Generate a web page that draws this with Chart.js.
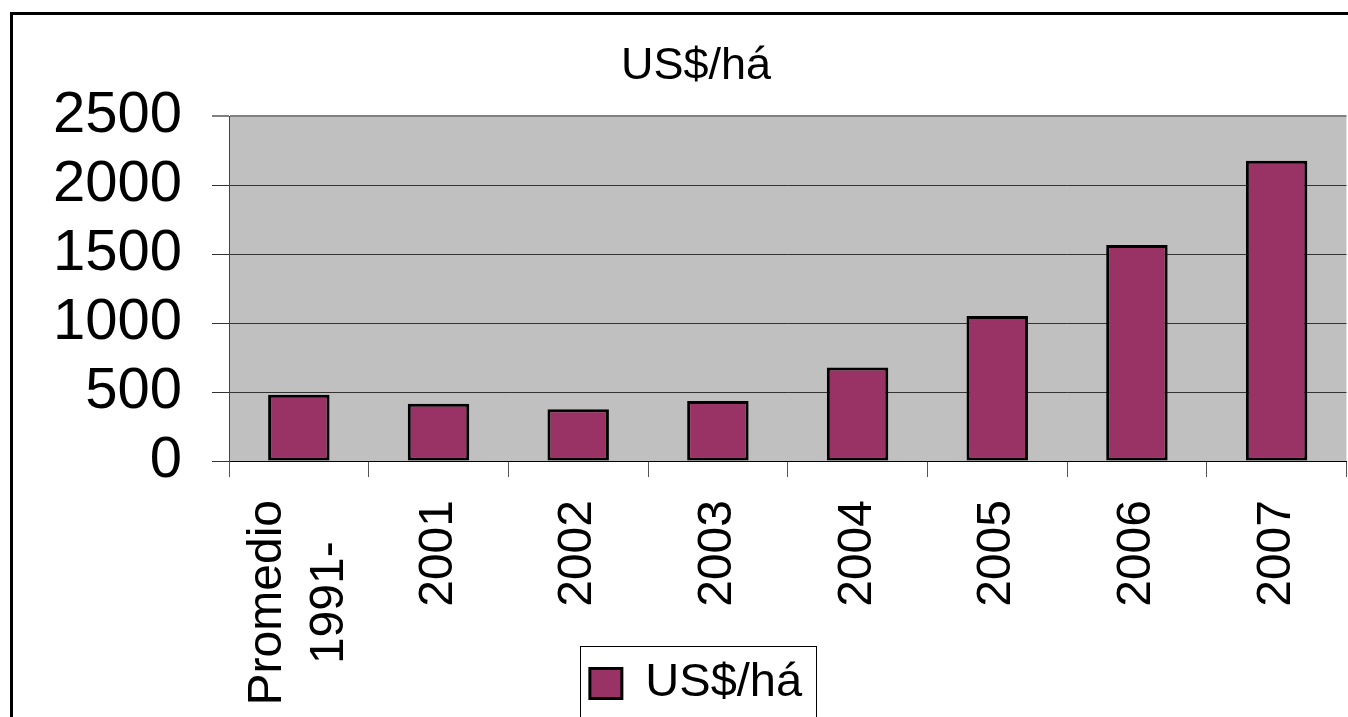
<!DOCTYPE html>
<html lang="es">
<head>
<meta charset="UTF-8">
<title>US$/há</title>
<script src="https://cdn.jsdelivr.net/npm/chart.js"></script>
<style>
  body { margin: 0; background: #fff; overflow: hidden; }
  .frame { position: absolute; left: 10px; top: 12px; width: 1500px; height: 850px; border: 3px solid #000; }
  .wrap { position: absolute; left: 0; top: 0; width: 1362px; height: 800px; }
</style>
</head>
<body>
<div class="frame"></div>
<div class="wrap"><canvas id="chart" width="1362" height="800"></canvas></div>
<script>
const categories = [['Promedio', '1991-'], '2001', '2002', '2003', '2004', '2005', '2006', '2007'];
const valores = [480, 415, 375, 435, 677, 1050, 1565, 2175];
const yTicks = [0, 500, 1000, 1500, 2000, 2500];

const FONT = "'Liberation Sans', Arial, sans-serif";
const LEGEND_TOP = 650;

// grey plot area, legend pulled up over the tall label strip, legend frame,
// and the two-line first label centred on its bar (lines centred like Excel)
const excelLook = {
    id: 'excelLook',
    afterLayout(chart) {
        const lg = chart.legend;
        if (lg) {
            lg.top = LEGEND_TOP;
            lg.bottom = LEGEND_TOP + lg.height;
        }
    },
    beforeDraw(chart) {
        const a = chart.chartArea, ctx = chart.ctx;
        ctx.save();
        ctx.fillStyle = '#c0c0c0';
        ctx.fillRect(a.left, a.top, a.right - a.left, a.bottom - a.top);

        const items = chart.scales.x.getLabelItems(a);
        const it = items[0];
        if (it && Array.isArray(it.label) && !it._moved) {
            ctx.font = it.font.string;
            const w = Math.max(...it.label.map(s => ctx.measureText(s).width));
            it.options.translation[0] -= it.font.lineHeight / 2;
            it.options.translation[1] += w / 2;
            it.options.textAlign = 'center';
            it._moved = true;
        }
        ctx.restore();
    },
    afterDraw(chart) {
        const lg = chart.legend;
        if (!lg || !lg.legendHitBoxes.length) return;
        const hb = lg.legendHitBoxes[0];
        const ctx = chart.ctx;
        ctx.save();
        ctx.strokeStyle = '#000';
        ctx.lineWidth = 1;
        ctx.strokeRect(Math.round(hb.left - 10) + 0.5, LEGEND_TOP - 3.5, Math.round(hb.width + 24), 200);
        ctx.restore();
    }
};

new Chart(document.getElementById('chart'), {
    type: 'bar',
    data: {
        labels: categories,
        datasets: [{
            label: 'US$/há',
            data: valores,
            backgroundColor: '#993366',
            borderColor: '#000',
            borderWidth: 3,
            borderSkipped: false,
            categoryPercentage: 1,
            barPercentage: 0.44
        }]
    },
    options: {
        responsive: false,
        animation: false,
        events: [],
        layout: { padding: { left: 30, right: 0, top: 0, bottom: 0 } },
        plugins: {
            title: {
                display: true,
                text: 'US$/há',
                color: '#000',
                font: { family: FONT, size: 45, weight: 'normal' },
                padding: { top: 40, bottom: 22 }
            },
            legend: {
                position: 'bottom',
                labels: {
                    color: '#000',
                    font: { family: FONT, size: 47 },
                    boxWidth: 32,
                    boxHeight: 30,
                    padding: 10
                }
            },
            tooltip: { enabled: false }
        },
        scales: {
            x: {
                offset: true,
                grid: {
                    offset: true,
                    drawOnChartArea: false,
                    tickLength: 16,
                    color: '#555'
                },
                border: { display: true, color: '#000', width: 1 },
                ticks: {
                    autoSkip: false,
                    minRotation: 90,
                    maxRotation: 90,
                    padding: 23,
                    color: '#000',
                    font: { family: FONT, size: 48, lineHeight: 1.3 }
                },
                afterFit(scale) { scale.height = 800 - 461 - scale.chart.legend.height; }
            },
            y: {
                min: 0,
                max: 2500,
                afterBuildTicks(scale) { scale.ticks = yTicks.map(v => ({ value: v })); },
                grid: {
                    tickLength: 17,
                    color: ctx => ctx.tick && ctx.tick.value === 2500 ? '#808080' : '#333',
                    lineWidth: ctx => ctx.tick && ctx.tick.value === 2500 ? 2 : 1
                },
                border: { display: true, color: '#444', width: 1 },
                ticks: {
                    autoSkip: false,
                    padding: 30,
                    color: '#000',
                    font: { family: FONT, size: 58, lineHeight: 1 },
                    callback: v => String(v)
                },
                afterFit(scale) { scale.width = 199; }
            }
        }
    },
    plugins: [excelLook]
});
</script>
</body>
</html>
